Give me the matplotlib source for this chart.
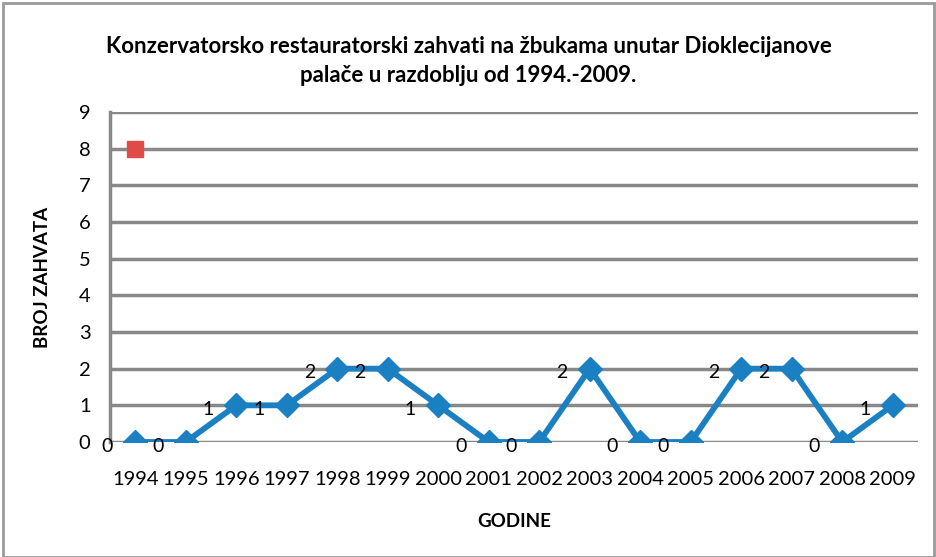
import matplotlib.pyplot as plt
from matplotlib.patches import Rectangle

years = ["1994", "1995", "1996", "1997", "1998", "1999", "2000", "2001",
         "2002", "2003", "2004", "2005", "2006", "2007", "2008", "2009"]
zahvati = [0, 0, 1, 1, 2, 2, 1, 0, 0, 2, 0, 0, 2, 2, 0, 1]
marker_idx = [0]
marker_val = [8]

plt.rcParams['font.family'] = ['Lato', 'DejaVu Sans']

fig = plt.figure(figsize=(9.37, 5.57), dpi=100)
ax = fig.add_axes([110 / 937, 1 - 442 / 557, 808 / 937, 330 / 557])

x = list(range(len(years)))
ax.plot(x, zahvati, color="#1a80c2", lw=4.2, marker="D", ms=12, zorder=3)
ax.plot(marker_idx, marker_val, ls="none", marker="s", ms=12,
        color="#e04a48", zorder=3)

for xi, v in zip(x, zahvati):
    ax.annotate(str(v), (xi, v), xytext=(-20, -3), textcoords="offset points",
                ha="center", va="center", fontsize=14, color="black")

ax.set_xlim(-0.5, len(years) - 0.5)
ax.set_ylim(0, 9)
ax.set_yticks(range(10))
ax.set_xticks(x)
ax.set_xticklabels(years)
ax.tick_params(length=0, labelsize=14.5, pad=21)
ax.tick_params(axis="y", pad=14)
ax.grid(axis="y", color="#888888", lw=2.5)
ax.set_axisbelow(True)
for s in ["top", "right", "bottom"]:
    ax.spines[s].set_visible(False)
ax.spines["left"].set_color("#888888")
ax.spines["left"].set_linewidth(2.5)

ax.set_xlabel("GODINE", fontsize=13.5, fontweight="bold", labelpad=18)
ax.set_ylabel("BROJ ZAHVATA", fontsize=13.5, fontweight="bold", labelpad=20)

fig.text(0.5, 1 - 61 / 557,
         "Konzervatorsko restauratorski zahvati na žbukama unutar Dioklecijanove\npalače u razdoblju od 1994.-2009.",
         ha="center", va="center", fontsize=16, fontweight="bold",
         linespacing=1.45)

fig.patches.append(Rectangle((3 / 937, 0), 931 / 937, 1 - 3 / 557,
                             transform=fig.transFigure, fill=False,
                             edgecolor="#9a9a9a", lw=2))

fig.savefig("out.png", dpi=100)
